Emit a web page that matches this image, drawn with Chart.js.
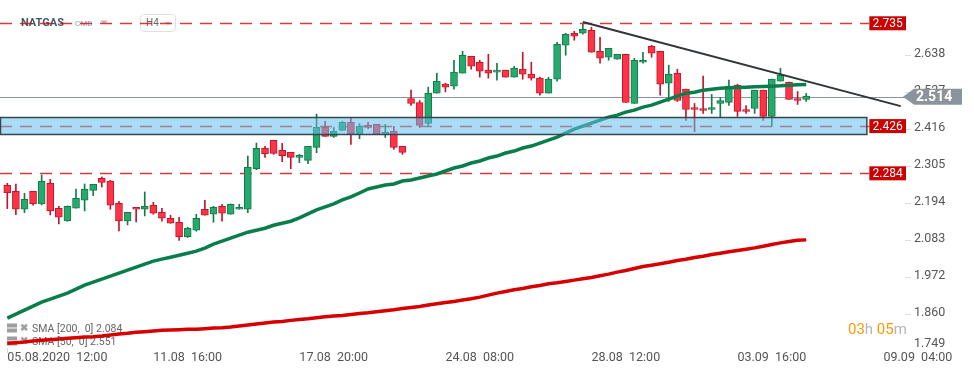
<!DOCTYPE html>
<html>
<head>
<meta charset="utf-8">
<title>NATGAS H4</title>
<script src="https://cdn.jsdelivr.net/npm/chart.js@4.4.1/dist/chart.umd.min.js"></script>
<style>
  html, body { margin: 0; padding: 0; background: #fff; }
  #wrap { width: 974px; height: 375px; }
</style>
</head>
<body>
<div id="wrap"><canvas id="chart" width="974" height="375"></canvas></div>
<script>
/* ============================================
   NATGAS H4 CANDLES WITH SMA 50 / SMA 200
   ============================================ */

// Candles (one per H4 bar)
const opens = [
  2.248, 2.230, 2.176, 2.230, 2.192, 2.254, 2.179, 2.141, 2.179, 2.203,
  2.233, 2.269, 2.261, 2.194, 2.141, 2.182, 2.176, 2.188, 2.167, 2.149,
  2.137, 2.094, 2.113, 2.176, 2.161, 2.185, 2.161, 2.176, 2.176, 2.298,
  2.359, 2.383, 2.353, 2.347, 2.332, 2.323, 2.362, 2.422, 2.395, 2.413,
  2.437, 2.401, 2.428, 2.431, 2.402, 2.410, 2.365, 2.509, 2.497, 2.434,
  2.525, 2.552, 2.546, 2.585, 2.636, 2.618, 2.594, 2.588, 2.594, 2.573,
  2.597, 2.582, 2.570, 2.525, 2.567, 2.669, 2.705, 2.705, 2.714, 2.651,
  2.633, 2.627, 2.642, 2.494, 2.618, 2.666, 2.651, 2.555, 2.585, 2.537,
  2.482, 2.479, 2.476, 2.494, 2.497, 2.549, 2.476, 2.479, 2.534, 2.455,
  2.561, 2.558, 2.509, 2.506
];
const highs = [
  2.254, 2.252, 2.224, 2.230, 2.279, 2.266, 2.185, 2.186, 2.237, 2.252,
  2.251, 2.273, 2.263, 2.200, 2.167, 2.182, 2.228, 2.197, 2.179, 2.158,
  2.152, 2.122, 2.161, 2.203, 2.185, 2.191, 2.192, 2.191, 2.336, 2.375,
  2.365, 2.383, 2.374, 2.347, 2.341, 2.365, 2.462, 2.440, 2.422, 2.440,
  2.452, 2.434, 2.437, 2.431, 2.431, 2.425, 2.365, 2.534, 2.503, 2.543,
  2.585, 2.555, 2.624, 2.651, 2.636, 2.624, 2.642, 2.615, 2.594, 2.606,
  2.648, 2.618, 2.573, 2.573, 2.678, 2.705, 2.711, 2.732, 2.723, 2.693,
  2.660, 2.642, 2.642, 2.630, 2.648, 2.669, 2.651, 2.609, 2.597, 2.537,
  2.494, 2.576, 2.521, 2.512, 2.564, 2.552, 2.488, 2.534, 2.534, 2.567,
  2.600, 2.558, 2.530, 2.524
];
const lows = [
  2.178, 2.160, 2.166, 2.188, 2.189, 2.159, 2.132, 2.140, 2.179, 2.171,
  2.217, 2.243, 2.176, 2.111, 2.129, 2.138, 2.156, 2.161, 2.140, 2.134,
  2.082, 2.091, 2.110, 2.158, 2.137, 2.140, 2.161, 2.176, 2.166, 2.295,
  2.332, 2.341, 2.319, 2.298, 2.316, 2.313, 2.346, 2.395, 2.392, 2.413,
  2.371, 2.388, 2.418, 2.402, 2.392, 2.356, 2.341, 2.488, 2.422, 2.425,
  2.525, 2.529, 2.537, 2.585, 2.597, 2.573, 2.570, 2.564, 2.573, 2.573,
  2.567, 2.564, 2.519, 2.525, 2.561, 2.639, 2.684, 2.702, 2.648, 2.615,
  2.624, 2.627, 2.497, 2.494, 2.615, 2.633, 2.519, 2.500, 2.500, 2.443,
  2.409, 2.464, 2.464, 2.452, 2.488, 2.455, 2.464, 2.464, 2.443, 2.425,
  2.561, 2.506, 2.491, 2.500
];
const closes = [
  2.226, 2.176, 2.206, 2.192, 2.260, 2.171, 2.152, 2.185, 2.209, 2.236,
  2.251, 2.257, 2.188, 2.141, 2.167, 2.176, 2.185, 2.164, 2.149, 2.134,
  2.094, 2.119, 2.149, 2.158, 2.182, 2.164, 2.191, 2.182, 2.302, 2.359,
  2.342, 2.344, 2.337, 2.332, 2.338, 2.365, 2.422, 2.395, 2.410, 2.437,
  2.402, 2.425, 2.422, 2.402, 2.407, 2.362, 2.347, 2.494, 2.428, 2.525,
  2.561, 2.543, 2.588, 2.639, 2.606, 2.591, 2.585, 2.594, 2.573, 2.600,
  2.582, 2.570, 2.525, 2.567, 2.672, 2.702, 2.696, 2.717, 2.648, 2.630,
  2.660, 2.642, 2.497, 2.624, 2.624, 2.645, 2.552, 2.582, 2.503, 2.476,
  2.476, 2.473, 2.482, 2.503, 2.546, 2.470, 2.470, 2.534, 2.455, 2.567,
  2.579, 2.506, 2.503, 2.516
];

// Moving averages
const sma50 = [
  1.849, 1.861, 1.873, 1.885, 1.897, 1.906, 1.915, 1.924, 1.936, 1.948,
  1.957, 1.966, 1.975, 1.984, 1.993, 2.002, 2.011, 2.020, 2.026, 2.032,
  2.038, 2.044, 2.050, 2.059, 2.071, 2.080, 2.089, 2.098, 2.107, 2.113,
  2.119, 2.128, 2.134, 2.140, 2.150, 2.162, 2.174, 2.183, 2.192, 2.204,
  2.213, 2.225, 2.237, 2.243, 2.249, 2.252, 2.261, 2.264, 2.270, 2.276,
  2.282, 2.291, 2.300, 2.306, 2.315, 2.321, 2.330, 2.336, 2.345, 2.351,
  2.360, 2.366, 2.375, 2.384, 2.393, 2.405, 2.417, 2.426, 2.435, 2.444,
  2.453, 2.459, 2.468, 2.474, 2.483, 2.489, 2.498, 2.507, 2.516, 2.525,
  2.528, 2.534, 2.537, 2.540, 2.541, 2.542, 2.543, 2.544, 2.545, 2.546,
  2.547, 2.549, 2.550, 2.551
];
const sma200 = [
  1.773, 1.775, 1.777, 1.780, 1.782, 1.784, 1.786, 1.788, 1.790, 1.792,
  1.793, 1.795, 1.798, 1.801, 1.803, 1.806, 1.808, 1.810, 1.812, 1.813,
  1.814, 1.815, 1.815, 1.817, 1.819, 1.820, 1.822, 1.825, 1.828, 1.831,
  1.834, 1.837, 1.839, 1.842, 1.845, 1.847, 1.850, 1.853, 1.855, 1.857,
  1.860, 1.863, 1.865, 1.868, 1.871, 1.874, 1.878, 1.881, 1.884, 1.888,
  1.892, 1.896, 1.899, 1.903, 1.907, 1.912, 1.918, 1.924, 1.929, 1.934,
  1.938, 1.943, 1.947, 1.952, 1.955, 1.959, 1.963, 1.967, 1.971, 1.976,
  1.981, 1.987, 1.992, 1.998, 2.004, 2.008, 2.012, 2.017, 2.022, 2.026,
  2.031, 2.035, 2.040, 2.044, 2.048, 2.052, 2.056, 2.060, 2.065, 2.070,
  2.075, 2.079, 2.083, 2.084
];

// Axis labels
const xTickLabels = ['05.08.2020  12:00', '11.08  16:00', '17.08  20:00', '24.08  08:00',
                     '28.08  12:00', '03.09  16:00', '09.09  04:00'];
const xTickStep = 17;
const slotCount = 105;
const yTicks = [2.638, 2.527, 2.416, 2.305, 2.194, 2.083, 1.972, 1.860, 1.749];

// Drawn objects
const levels = [2.735, 2.426, 2.284];
const zoneTop = 2.452;
const zoneBottom = 2.402;
const zoneEnd = 100;
const trendIdx = [67, 104];
const trendVals = [2.739, 2.486];
const lastPrice = 2.514;

const labels = Array.from({ length: slotCount }, (_, i) =>
  i % xTickStep === 0 ? xTickLabels[i / xTickStep] : '');

const UP = '#26a96c', UP_EDGE = '#157a48';
const DOWN = '#ff3347', DOWN_EDGE = '#c1172c';
const isUp = opens.map((o, i) => closes[i] >= o);

const trendLine = labels.map(() => null);
trendIdx.forEach((idx, k) => { trendLine[idx] = trendVals[k]; });

const FONT = 'Roboto, "Open Sans", sans-serif';

const overlays = {
  id: 'overlays',
  beforeDatasetsDraw(chart) {
    const { ctx, chartArea: a, scales: { x, y } } = chart;
    ctx.save();

    // Header
    ctx.textBaseline = 'middle';
    ctx.fillStyle = '#455a64';
    ctx.font = 'bold 11px ' + FONT;
    ctx.fillText('NATGAS', 21, 23.5);
    ctx.fillStyle = '#8d9aa1';
    ctx.font = '8px ' + FONT;
    ctx.fillText('CMD', 75, 24);
    ctx.fillStyle = '#bbb';
    ctx.beginPath(); ctx.moveTo(100, 20.5); ctx.lineTo(108, 20.5); ctx.lineTo(104, 24.5); ctx.fill();
    ctx.strokeStyle = '#e0e0e0';
    ctx.lineWidth = 1;
    ctx.beginPath(); ctx.roundRect(140.5, 14.5, 35, 17, 3); ctx.stroke();
    ctx.fillStyle = '#666';
    ctx.font = '10px ' + FONT;
    ctx.fillText('H4', 146, 23.5);
    ctx.fillStyle = '#bbb';
    ctx.beginPath(); ctx.moveTo(165, 22); ctx.lineTo(171, 22); ctx.lineTo(168, 25); ctx.fill();

    // Indicator legend
    [['SMA [200,  0] 2.084', 328.5], ['SMA [50,  0] 2.551', 341.5]].forEach(([t, ly]) => {
      ctx.fillStyle = '#9e9e9e';
      ctx.fillRect(7, ly - 5, 10, 4);
      ctx.fillRect(7, ly, 10, 4);
      ctx.font = 'bold 10px ' + FONT;
      ctx.fillText('✖', 20, ly);
      ctx.fillStyle = '#666';
      ctx.font = '10.5px ' + FONT;
      ctx.fillText(t, 32, ly + 0.5);
    });

    // Countdown
    ctx.font = '15px ' + FONT;
    let cx = 848;
    [['03', '#ff9800'], ['h ', '#b5b5b5'], ['05', '#ff9800'], ['m', '#b5b5b5']].forEach(([t, c]) => {
      ctx.fillStyle = c;
      ctx.fillText(t, cx, 330);
      cx += ctx.measureText(t).width;
    });

    // Level lines
    const lineEnd = x.getPixelForValue(zoneEnd) + 3;
    ctx.setLineDash([12, 8]);
    ctx.lineWidth = 1.5;
    ctx.strokeStyle = 'rgba(214, 20, 24, 0.85)';
    levels.forEach(v => {
      const py = Math.round(y.getPixelForValue(v)) + 0.5;
      ctx.beginPath(); ctx.moveTo(0, py); ctx.lineTo(lineEnd, py); ctx.stroke();
    });
    ctx.setLineDash([]);

    // Last price line
    const pp = Math.round(y.getPixelForValue(lastPrice)) + 0.5;
    ctx.strokeStyle = '#8a949a';
    ctx.lineWidth = 1;
    ctx.beginPath(); ctx.moveTo(0, pp); ctx.lineTo(a.right, pp); ctx.stroke();
    ctx.restore();
  },
  afterDatasetsDraw(chart) {
    const { ctx, chartArea: a, scales: { x, y } } = chart;
    ctx.save();

    // Support zone
    const zx = x.getPixelForValue(zoneEnd);
    const zt = Math.round(y.getPixelForValue(zoneTop)) + 0.5;
    const zb = Math.round(y.getPixelForValue(zoneBottom)) + 0.5;
    ctx.fillStyle = 'rgba(100, 190, 235, 0.55)';
    ctx.fillRect(0, zt, zx, zb - zt);
    ctx.strokeStyle = '#37474f';
    ctx.lineWidth = 1.5;
    ctx.strokeRect(0.5, zt, zx, zb - zt);

    // Level tags
    ctx.textBaseline = 'middle';
    ctx.textAlign = 'center';
    ctx.font = '12px ' + FONT;
    levels.forEach(v => {
      const py = y.getPixelForValue(v);
      ctx.fillStyle = '#cc0000';
      ctx.fillRect(zx + 3, py - 7, a.right - zx - 2, 14);
      ctx.fillStyle = '#fff';
      ctx.fillText(v.toFixed(3), (zx + 3 + a.right + 1) / 2, py + 0.5);
    });

    // Last price tag
    const pp = y.getPixelForValue(lastPrice);
    ctx.fillStyle = '#8a949a';
    ctx.beginPath();
    ctx.moveTo(a.right - 2, pp);
    ctx.lineTo(a.right + 9, pp - 8);
    ctx.lineTo(a.right + 57, pp - 8);
    ctx.lineTo(a.right + 57, pp + 8);
    ctx.lineTo(a.right + 9, pp + 8);
    ctx.closePath();
    ctx.fill();
    ctx.fillStyle = '#fff';
    ctx.textAlign = 'left';
    ctx.font = 'bold 14px ' + FONT;
    ctx.fillText(lastPrice.toFixed(3), a.right + 11, pp + 0.5);

    // Bottom y label kept inside the plot
    const bottomTick = yTicks[yTicks.length - 1];
    ctx.fillStyle = '#555';
    ctx.font = '12.5px ' + FONT;
    ctx.fillText(bottomTick.toFixed(3), a.right + 9, a.bottom - 4);
    ctx.restore();
  }
};

new Chart(document.getElementById('chart'), {
  type: 'bar',
  data: {
    labels: labels,
    datasets: [
      {
        label: 'Trend',
        type: 'line',
        data: trendLine,
        borderColor: '#2f3538',
        borderWidth: 2,
        pointRadius: 0,
        spanGaps: true,
        order: 0
      },
      {
        label: 'SMA 50',
        type: 'line',
        data: sma50,
        borderColor: '#0a7d4d',
        borderWidth: 3.5,
        pointRadius: 0,
        tension: 0,
        order: 1
      },
      {
        label: 'SMA 200',
        type: 'line',
        data: sma200,
        borderColor: '#d60000',
        borderWidth: 3.5,
        pointRadius: 0,
        tension: 0,
        order: 1
      },
      {
        label: 'Body',
        data: opens.map((o, i) => [o, closes[i]]),
        backgroundColor: isUp.map(u => u ? UP : DOWN),
        borderColor: isUp.map(u => u ? UP_EDGE : DOWN_EDGE),
        borderWidth: 1,
        borderSkipped: false,
        barThickness: 7,
        grouped: false,
        order: 2
      },
      {
        label: 'Wick',
        data: lows.map((l, i) => [l, highs[i]]),
        backgroundColor: isUp.map(u => u ? UP_EDGE : DOWN_EDGE),
        borderWidth: 0,
        barThickness: 1,
        grouped: false,
        order: 3
      }
    ]
  },
  options: {
    responsive: false,
    animation: false,
    layout: { padding: { left: 3, top: 0, right: 0, bottom: 0 } },
    plugins: { legend: { display: false }, tooltip: { enabled: false } },
    scales: {
      x: {
        offset: true,
        border: { display: false },
        grid: {
          drawOnChartArea: false,
          offset: false,
          tickLength: 5,
          tickColor: c => labels[c.index] ? '#d8d8d8' : 'rgba(0,0,0,0)'
        },
        ticks: {
          autoSkip: false,
          maxRotation: 0,
          minRotation: 0,
          align: 'start',
          padding: -3,
          color: '#555',
          font: { family: FONT, size: 12.5 },
          callback: (v, i) => labels[i] || null
        },
        afterFit: s => { s.height = 27; s.paddingLeft = 0; s.paddingRight = 0; }
      },
      y: {
        position: 'right',
        min: 1.759,
        max: 2.805,
        border: { display: false },
        afterBuildTicks: s => { s.ticks = yTicks.map(v => ({ value: v })); },
        grid: { drawOnChartArea: false, tickLength: 6, tickColor: '#dcdcdc' },
        ticks: {
          padding: 3,
          labelOffset: -1.5,
          color: '#555',
          font: { family: FONT, size: 12.5 },
          callback: v => v < 1.759 ? null : v.toFixed(3)
        },
        afterFit: s => { s.width = 69; s.paddingTop = 0; s.paddingBottom = 0; }
      }
    }
  },
  plugins: [overlays]
});
</script>
</body>
</html>
